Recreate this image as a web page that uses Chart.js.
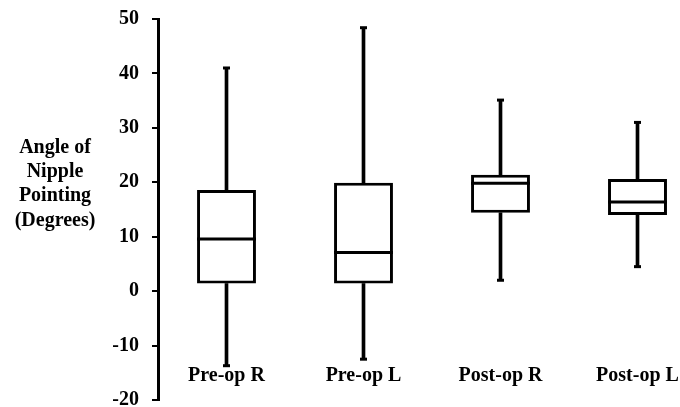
<!DOCTYPE html>
<html>
<head>
<meta charset="utf-8">
<script src="https://cdn.jsdelivr.net/npm/chart.js@4"></script>
<style>
  html, body { margin: 0; padding: 0; background: #fff; overflow: hidden; }
  #wrap { width: 680px; height: 407px; overflow: hidden; position: relative; background: #fff; }
  canvas { display: block; }
</style>
</head>
<body>
<div id="wrap"><canvas id="c" width="720" height="420"></canvas></div>
<script>
// ---- data ----
const categories = ['Pre-op R', 'Pre-op L', 'Post-op R', 'Post-op L'];
const mins    = [-13.7, -12.5, 2.0, 4.5];
const q1s     = [1.4, 1.4, 14.4, 14.0];
const medians = [9.6, 7.1, 19.8, 16.4];
const q3s     = [18.6, 19.9, 21.4, 20.6];
const maxs    = [41.0, 48.4, 35.1, 31.0];
const yTitleLines = ['Angle of', 'Nipple', 'Pointing', '(Degrees)'];

const FONT = '"Liberation Serif", "Times New Roman", serif';

const titlePlugin = {
  id: 'yTitle',
  afterDraw(chart) {
    const ctx = chart.ctx;
    const y = chart.scales.y;
    const cy = y.getPixelForValue(20);
    ctx.save();
    ctx.fillStyle = '#000';
    ctx.font = 'bold 20px ' + FONT;
    ctx.textAlign = 'center';
    ctx.textBaseline = 'alphabetic';
    const lh = 24.3;
    const first = cy - 29.5;
    yTitleLines.forEach((t, i) => ctx.fillText(t, 55, first + i * lh));
    ctx.restore();
  }
};

new Chart(document.getElementById('c'), {
  data: {
    labels: categories,
    datasets: [
      {
        type: 'line', label: 'median', order: 0,
        data: medians, showLine: false,
        pointStyle: 'line', pointRadius: 29.5, pointBorderWidth: 3,
        pointBorderColor: '#000', pointBackgroundColor: '#000'
      },
      {
        type: 'line', label: 'maxcap', order: 0,
        data: maxs, showLine: false,
        pointStyle: 'line', pointRadius: 3.5, pointBorderWidth: 3,
        pointBorderColor: '#000'
      },
      {
        type: 'line', label: 'mincap', order: 0,
        data: mins, showLine: false,
        pointStyle: 'line', pointRadius: 3.5, pointBorderWidth: 3,
        pointBorderColor: '#000'
      },
      {
        type: 'bar', label: 'box', order: 1, grouped: false,
        data: categories.map((c, i) => [q1s[i], q3s[i]]),
        backgroundColor: '#fff', borderColor: '#000', borderWidth: 3,
        borderSkipped: false, barPercentage: 0.43, categoryPercentage: 1
      },
      {
        type: 'bar', label: 'upper', order: 2, grouped: false,
        data: categories.map((c, i) => [q3s[i], maxs[i]]),
        backgroundColor: '#000', borderWidth: 0, barThickness: 3
      },
      {
        type: 'bar', label: 'lower', order: 2, grouped: false,
        data: categories.map((c, i) => [mins[i], q1s[i]]),
        backgroundColor: '#000', borderWidth: 0, barThickness: 3
      }
    ]
  },
  options: {
    responsive: false,
    animation: false,
    devicePixelRatio: 1,
    layout: { autoPadding: false, padding: { top: 19, right: 14, left: 0, bottom: 0 } },
    plugins: { legend: { display: false }, tooltip: { enabled: false } },
    scales: {
      x: {
        type: 'category',
        offset: true,
        grid: { display: false, drawTicks: false },
        border: { display: false },
        ticks: { color: '#000', font: { family: FONT, size: 20, weight: 'bold' }, padding: 12, mirror: true, maxRotation: 0, autoSkip: false },
        afterFit(s) { s.height = 20; s.paddingLeft = 0; s.paddingRight = 0; }
      },
      y: {
        min: -20, max: 50,
        ticks: { stepSize: 10, color: '#000', font: { family: FONT, size: 20, weight: 'bold' }, padding: 13 },
        grid: { display: true, drawOnChartArea: false, drawTicks: true, tickLength: 6, color: '#000', lineWidth: 2 },
        border: { display: true, color: '#000', width: 3 },
        afterFit(s) { s.width = 158; s.paddingTop = 12; s.paddingBottom = 12; }
      }
    }
  },
  plugins: [titlePlugin]
});
</script>
</body>
</html>
